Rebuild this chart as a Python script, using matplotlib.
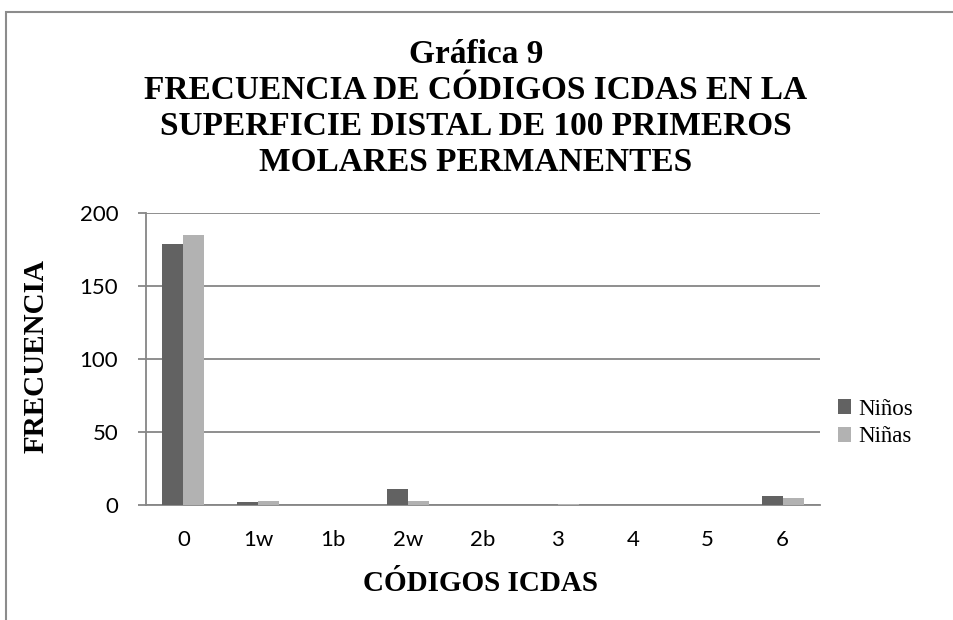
import numpy as np
import matplotlib.pyplot as plt
from matplotlib.patches import Rectangle

# Data
categories = ["0", "1w", "1b", "2w", "2b", "3", "4", "5", "6"]
ninos = [179, 2, 0, 11, 0, 0, 0, 0, 6]
ninas = [185, 3, 0, 3, 0, 1, 0, 0, 5]
series_names = ["Niños", "Niñas"]
title_lines = ["Gráfica 9",
               "FRECUENCIA DE CÓDIGOS ICDAS EN LA",
               "SUPERFICIE DISTAL DE 100 PRIMEROS",
               "MOLARES PERMANENTES"]

W, H = 954, 620
fig = plt.figure(figsize=(W / 100, H / 100), dpi=100)

serif = "Liberation Serif"
sans = "Lato"
grid_col = "#868686"

# outer chart frame (cropped on the right/bottom)
fig.add_artist(Rectangle((6 / W, -0.05), 1.2, 1 - 12 / H + 0.05,
                         transform=fig.transFigure, fill=False,
                         edgecolor="#8c8c8c", linewidth=1.5))

ax = fig.add_axes([146 / W, 1 - 505 / H, (820 - 146) / W, (505 - 213) / H])

x = np.arange(len(categories))
w = 0.28
b1 = ax.bar(x - w / 2, ninos, w, color="#626262", label=series_names[0], zorder=3)
b2 = ax.bar(x + w / 2, ninas, w, color="#b2b2b2", label=series_names[1], zorder=3)

ax.set_xlim(-0.5, len(categories) - 0.5)
ax.set_ylim(0, 200)
ax.set_yticks([0, 50, 100, 150, 200])
ax.set_xticks(x)
ax.set_xticklabels(categories, fontfamily=sans, fontsize=16)
for lbl in ax.get_yticklabels():
    lbl.set_fontfamily(sans)
    lbl.set_fontsize(16)

ax.grid(axis="y", color=grid_col, linewidth=1.3, zorder=0)
for s in ["top", "right"]:
    ax.spines[s].set_visible(False)
ax.spines["left"].set_color(grid_col)
ax.spines["bottom"].set_color(grid_col)
ax.spines["left"].set_linewidth(1.3)
ax.spines["bottom"].set_linewidth(1.3)
ax.tick_params(axis="y", length=6, color=grid_col, width=1.3, pad=14)
ax.tick_params(axis="x", length=0, pad=18)

# titles and axis labels
baselines = [63, 99, 135, 171]
for t, yy in zip(title_lines, baselines):
    fig.text(476 / W, 1 - yy / H, t, ha="center", va="baseline",
             fontfamily=serif, fontweight="bold", fontsize=24)
fig.text(481 / W, 1 - 591 / H, "CÓDIGOS ICDAS", ha="center", va="baseline",
         fontfamily=serif, fontweight="bold", fontsize=21)
fig.text(36 / W, 1 - 356 / H, "FRECUENCIA", ha="center", va="center",
         rotation=90, fontfamily=serif, fontweight="bold", fontsize=21)

leg = fig.legend(handles=[b1, b2], loc="center left",
                 bbox_to_anchor=(817 / W, 1 - 423 / H), frameon=False,
                 prop={"family": serif, "size": 16.5},
                 handlelength=0.6, handleheight=0.6, handletextpad=0.3,
                 labelspacing=0.3)

fig.savefig("out.png", dpi=100)
